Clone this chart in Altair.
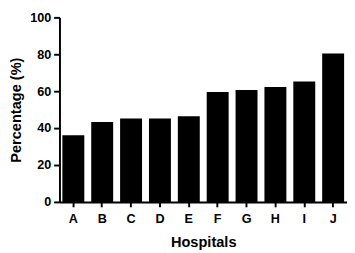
import altair as alt
import pandas as pd

hospitals = ["A", "B", "C", "D", "E", "F", "G", "H", "I", "J"]
percentages = [36.1, 43.3, 45.2, 45.2, 46.4, 59.6, 60.6, 62.3, 65.3, 80.4]

df = pd.DataFrame({"Hospital": hospitals, "Percentage": percentages})

font = "Liberation Sans"

chart = alt.Chart(df).mark_bar(color="black").encode(
    x=alt.X(
        "Hospital:N",
        sort=hospitals,
        title="Hospitals",
        scale=alt.Scale(paddingInner=0.24, paddingOuter=0.1),
        axis=alt.Axis(
            labelAngle=0,
            labelFont=font,
            labelFontWeight="bold",
            labelFontSize=13,
            labelColor="black",
            labelPadding=6,
            titleFont=font,
            titleFontWeight="bold",
            titleFontSize=15,
            titleColor="black",
            titlePadding=10,
            domainColor="black",
            domainWidth=2,
            tickColor="black",
            tickWidth=2,
            tickSize=5,
        ),
    ),
    y=alt.Y(
        "Percentage:Q",
        title="Percentage (%)",
        scale=alt.Scale(domain=[0, 100], nice=False),
        axis=alt.Axis(
            values=[0, 20, 40, 60, 80, 100],
            grid=False,
            labelFont=font,
            labelFontWeight="bold",
            labelFontSize=13,
            labelColor="black",
            labelPadding=3,
            titleFont=font,
            titleFontWeight="bold",
            titleFontSize=15,
            titleColor="black",
            titlePadding=6,
            domainColor="black",
            domainWidth=2,
            tickColor="black",
            tickWidth=2,
            tickSize=6,
        ),
    ),
).properties(
    width=296,
    height=190,
    autosize=alt.AutoSizeParams(type="none"),
    padding={"left": 53, "top": 6, "right": 0, "bottom": 52},
).configure_view(stroke=None)

chart.save("out.html", embed_options={"renderer": "svg", "actions": False})
